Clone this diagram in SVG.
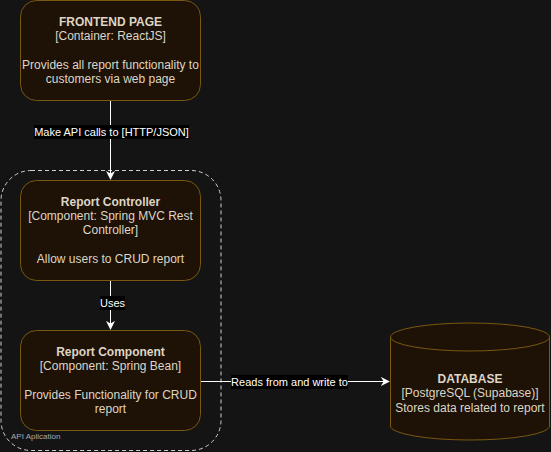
<svg xmlns="http://www.w3.org/2000/svg" width="551" height="452" viewBox="0 0 551 452">
<defs>
<style>
.box{fill:#1e1105;stroke:#7a5810;stroke-width:1}
.t{font-family:"Liberation Sans",Arial,sans-serif;font-size:12px;fill:#ddd6c6;text-anchor:middle}
.b{font-weight:bold}
.edge{stroke:#ffffff;stroke-width:1;fill:none}
.lbl{font-family:"Liberation Sans",Arial,sans-serif;font-size:11px;fill:#ffffff;text-anchor:middle}
.lblbg{fill:#000000}
</style>
<marker id="arr" viewBox="0 0 10 10" refX="9" refY="5" markerWidth="9" markerHeight="9" markerUnits="userSpaceOnUse" orient="auto">
<path d="M0,0 L10,5 L0,10 L3,5 Z" fill="#ffffff"/>
</marker>
</defs>
<rect width="551" height="452" fill="#141414"/>
<g id="container-api">
<rect x="1" y="170.5" width="220" height="280" rx="30" ry="30" fill="none" stroke="#d0d0d0" stroke-width="1" stroke-dasharray="4,3"/>
<text x="11" y="439" font-family="'Liberation Sans',Arial,sans-serif" font-size="8" fill="#a8a8a8">API Aplication</text>
</g>
<g id="frontend">
<rect class="box" x="20.5" y="0.5" width="180" height="100" rx="16" ry="16"/>
<text class="t b" x="110.5" y="26">FRONTEND PAGE</text>
<text class="t" x="110.5" y="40">[Container: ReactJS]</text>
<text class="t" x="110.5" y="69">Provides all report functionality to</text>
<text class="t" x="110.5" y="83">customers via web page</text>
</g>
<g id="controller">
<rect class="box" x="20.5" y="180.5" width="180" height="100" rx="16" ry="16"/>
<text class="t b" x="110.5" y="206">Report Controller</text>
<text class="t" x="110.5" y="220">[Component: Spring MVC Rest</text>
<text class="t" x="110.5" y="234">Controller]</text>
<text class="t" x="110.5" y="263">Allow users to CRUD report</text>
</g>
<g id="component">
<rect class="box" x="20.5" y="330.5" width="180" height="100" rx="16" ry="16"/>
<text class="t b" x="110.5" y="356">Report Component</text>
<text class="t" x="110.5" y="370">[Component: Spring Bean]</text>
<text class="t" x="110.5" y="399">Provides Functionality for CRUD</text>
<text class="t" x="110.5" y="413">report</text>
</g>
<g id="database">
<path class="box" d="M390.5,337 A79.5,14 0 0 1 549.5,337 L549.5,426 A79.5,14 0 0 1 390.5,426 Z"/>
<path class="box" d="M390.5,337 A79.5,14 0 0 0 549.5,337" fill="none"/>
<text class="t b" x="470" y="383">DATABASE</text>
<text class="t" x="470" y="397">[PostgreSQL (Supabase)]</text>
<text class="t" x="470" y="412">Stores data related to report</text>
</g>
<g id="connectors">
<line class="edge" x1="110.5" y1="101" x2="110.5" y2="179" marker-end="url(#arr)"/>
<rect class="lblbg" x="34" y="125" width="155" height="14"/>
<text class="lbl" x="111.5" y="136">Make API calls to [HTTP/JSON]</text>
<line class="edge" x1="110.5" y1="281" x2="110.5" y2="329" marker-end="url(#arr)"/>
<rect class="lblbg" x="100" y="296" width="25" height="14"/>
<text class="lbl" x="112.5" y="307">Uses</text>
<line class="edge" x1="201" y1="381.5" x2="389" y2="381.5" marker-end="url(#arr)"/>
<rect class="lblbg" x="231" y="375" width="117" height="14"/>
<text class="lbl" x="289.5" y="385.5">Reads from and write to</text>
</g>
</svg>
